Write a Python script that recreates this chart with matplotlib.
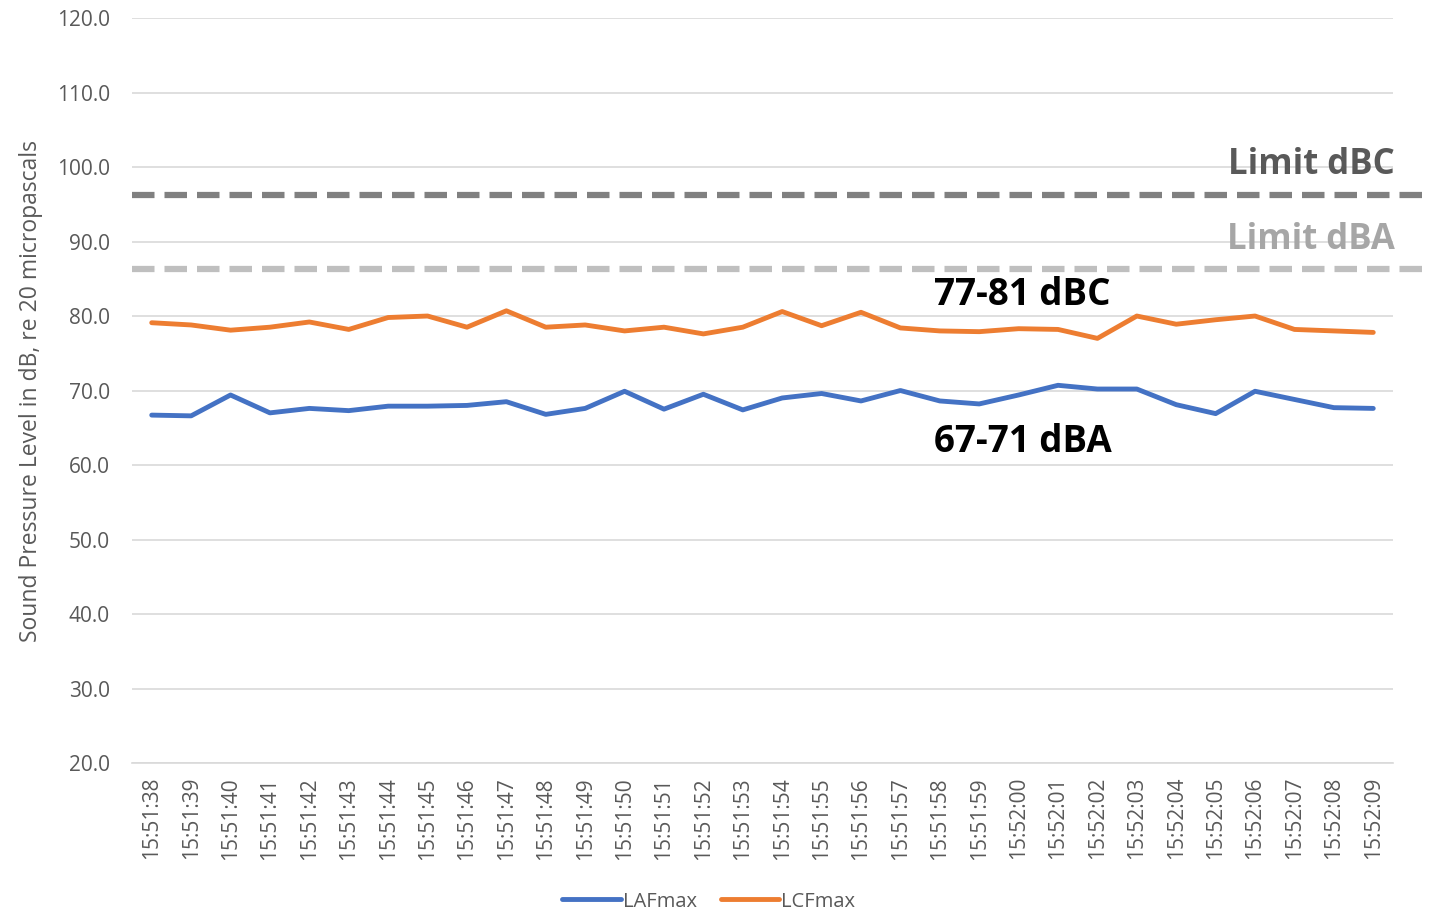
import matplotlib
matplotlib.use("Agg")
import matplotlib.pyplot as plt
import numpy as np

plt.rcParams['font.family'] = ['Open Sans', 'DejaVu Sans']

# time stamps 15:51:38 .. 15:52:09
times = ["15:51:38", "15:51:39", "15:51:40", "15:51:41", "15:51:42", "15:51:43",
         "15:51:44", "15:51:45", "15:51:46", "15:51:47", "15:51:48", "15:51:49",
         "15:51:50", "15:51:51", "15:51:52", "15:51:53", "15:51:54", "15:51:55",
         "15:51:56", "15:51:57", "15:51:58", "15:51:59", "15:52:00", "15:52:01",
         "15:52:02", "15:52:03", "15:52:04", "15:52:05", "15:52:06", "15:52:07",
         "15:52:08", "15:52:09"]

lafmax = [66.7, 66.6, 69.4, 67.0, 67.6, 67.3, 67.9, 67.9, 68.0, 68.5, 66.8, 67.6,
          69.9, 67.5, 69.5, 67.4, 69.0, 69.6, 68.6, 70.0, 68.6, 68.2, 69.4, 70.7,
          70.2, 70.2, 68.1, 66.9, 69.9, 68.8, 67.7, 67.6]

lcfmax = [79.1, 78.8, 78.1, 78.5, 79.2, 78.2, 79.8, 80.0, 78.5, 80.7, 78.5, 78.8,
          78.0, 78.5, 77.6, 78.5, 80.6, 78.7, 80.5, 78.4, 78.0, 77.9, 78.3, 78.2,
          77.0, 80.0, 78.9, 79.5, 80.0, 78.2, 78.0, 77.8]

limit_dbc = 96.3
limit_dba = 86.3

fig = plt.figure(figsize=(14.35, 9.15), dpi=100)
ax = fig.add_axes([0.092, 0.1661, 0.8787, 0.8142])

x = np.arange(len(times))
ax.plot(x, lafmax, color="#4472C4", lw=3.5, label="LAFmax", solid_capstyle="round", zorder=3)
ax.plot(x, lcfmax, color="#ED7D31", lw=3.5, label="LCFmax", solid_capstyle="round", zorder=3)

# limit lines run a bit past the plot area
xr = [-0.5, len(times) - 0.5 + 0.82]
ax.plot(xr, [limit_dbc] * 2, color="#808080", lw=4.5, dashes=(3.6, 1.6), clip_on=False, zorder=2)
ax.plot(xr, [limit_dba] * 2, color="#BFBFBF", lw=4.5, dashes=(3.6, 1.6), clip_on=False, zorder=2)

ax.text(31.55, 100.3, "Limit dBC", ha="right", va="center", fontsize=25, fontweight="bold", color="#595959")
ax.text(31.55, 90.2, "Limit dBA", ha="right", va="center", fontsize=25, fontweight="bold", color="#A6A6A6")
ax.text(22.1, 82.8, "77-81 dBC", ha="center", va="center", fontsize=26.5, fontweight="bold", color="black")
ax.text(22.1, 63.1, "67-71 dBA", ha="center", va="center", fontsize=26.5, fontweight="bold", color="black")

ax.set_xlim(-0.5, len(times) - 0.5)
ax.set_ylim(20, 120)
ax.set_yticks(np.arange(20, 121, 10))
ax.set_yticklabels(["%.1f" % v for v in np.arange(20, 121, 10)])
ax.set_xticks(x)
ax.set_xticklabels(times, rotation=90)
ax.yaxis.grid(True, color="#D9D9D9", lw=1.2)
ax.set_axisbelow(True)
for s in ["top", "right", "left"]:
    ax.spines[s].set_visible(False)
ax.spines["bottom"].set_color("#D9D9D9")
ax.spines["bottom"].set_linewidth(1.2)
ax.tick_params(axis="both", length=0, labelsize=15, colors="#595959")
ax.tick_params(axis="y", pad=16)
ax.tick_params(axis="x", pad=10)
ax.set_ylabel("Sound Pressure Level in dB, re 20 micropascals", fontsize=16.5, color="#595959", labelpad=10)

leg = fig.legend(loc="lower center", bbox_to_anchor=(0.494, -0.016), ncol=2, frameon=False,
                 fontsize=14.5, handlelength=2.9, handletextpad=0.1, columnspacing=1.2)
for t in leg.get_texts():
    t.set_color("#595959")

fig.savefig("out.png", dpi=100)
